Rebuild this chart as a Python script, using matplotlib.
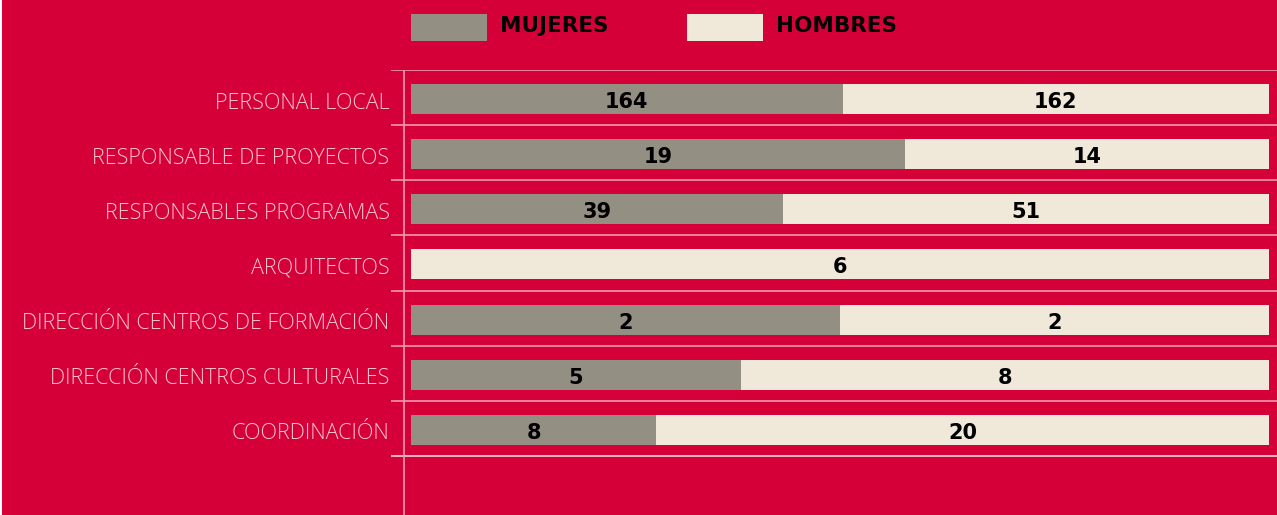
import matplotlib.pyplot as plt
from matplotlib.patches import Rectangle

# data
categorias = ['PERSONAL LOCAL', 'RESPONSABLE DE PROYECTOS', 'RESPONSABLES PROGRAMAS',
              'ARQUITECTOS', 'DIRECCIÓN CENTROS DE FORMACIÓN',
              'DIRECCIÓN CENTROS CULTURALES', 'COORDINACIÓN']
mujeres = [164, 19, 39, 0, 2, 5, 8]
hombres = [162, 14, 51, 6, 2, 8, 20]

ROJO = '#D50037'
GRIS = '#948F83'
CREMA = '#F0E9DA'
LINEA = '#EE9AB0'

plt.rcParams['font.family'] = ['DejaVu Sans']

W, H = 1277, 515
fig = plt.figure(figsize=(W / 100, H / 100), dpi=100)
fig.patch.set_facecolor(ROJO)
fig.patches.append(Rectangle((0, 0), 2 / W, 1, transform=fig.transFigure,
                             facecolor='white', edgecolor='none'))

# axes: left at separator start (x=391), top at first separator (y=70)
ax = fig.add_axes([391 / W, 0, 1 - 391 / W, (H - 70) / H])
ax.set_facecolor(ROJO)
for s in ax.spines.values():
    s.set_visible(False)

n = len(categorias)
paso = 55.1
ax.set_xlim(-20 / 858, 1 + 8 / 858)
ax.set_ylim(n - 0.5 + 59 / paso, -0.5)
ax.set_xticks([])
ax.set_yticks([])

tot = [m + h for m, h in zip(mujeres, hombres)]
pm = [m / t for m, t in zip(mujeres, tot)]
ph = [h / t for h, t in zip(hombres, tot)]
y = [i + 1.5 / paso for i in range(n)]

ax.barh(y, pm, height=30 / paso, color=GRIS, zorder=2)
ax.barh(y, ph, left=pm, height=30 / paso, color=CREMA, zorder=2)

dn = 3 / paso  # text sits a little below bar centre
for i, yy in enumerate(y):
    if mujeres[i] > 0:
        ax.text(pm[i] / 2, yy + dn, str(mujeres[i]), ha='center', va='center',
                fontsize=15, fontweight='bold', color='black', zorder=3)
    ax.text(pm[i] + ph[i] / 2, yy + dn, str(hombres[i]), ha='center', va='center',
            fontsize=15, fontweight='bold', color='black', zorder=3)
    ax.text(-21.5 / 858, yy + 4 / paso, categorias[i], ha='right', va='center',
            fontsize=15.5, fontweight='light', family=['Open Sans', 'DejaVu Sans'],
            color='#F8C4D0', zorder=3)

# separators and vertical axis line
for k in range(n + 1):
    ax.axhline(k - 0.5, color=LINEA if k < n else '#F3D6DC', lw=1.2, zorder=1)
ax.axvline(-7 / 858, color=LINEA, lw=1.2, zorder=1)

# legend
for x0, col, txt in [(411, GRIS, 'MUJERES'), (687, CREMA, 'HOMBRES')]:
    fig.patches.append(Rectangle((x0 / W, 1 - 41 / H), 76 / W, 27 / H,
                                 transform=fig.transFigure, facecolor=col,
                                 edgecolor='none'))
    fig.text((x0 + 89) / W, 1 - 26 / H, txt, ha='left', va='center',
             fontsize=15.5, fontweight='bold', color='black')

fig.savefig('out.png', dpi=100, facecolor=ROJO)
